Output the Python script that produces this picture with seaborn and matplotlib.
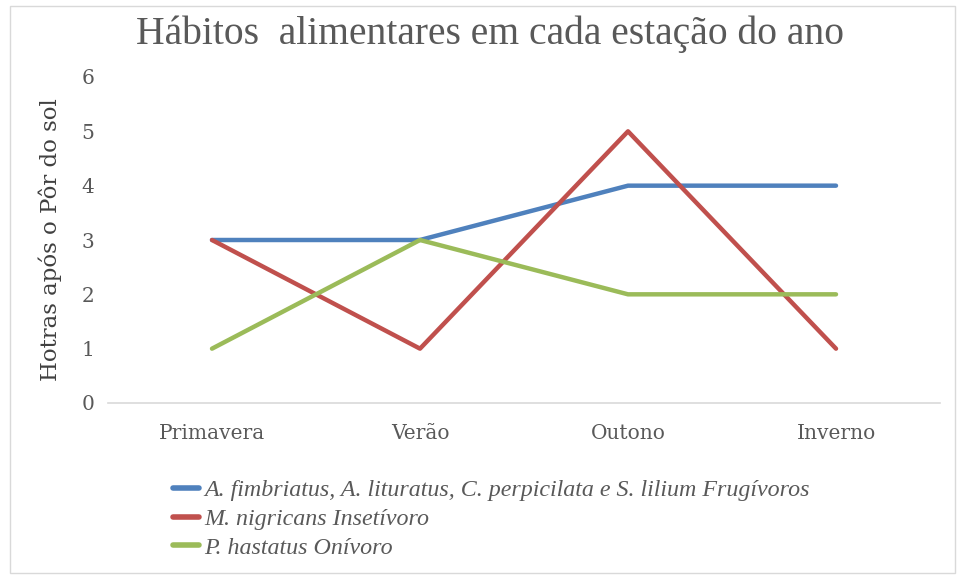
import matplotlib
matplotlib.use("Agg")
import matplotlib.pyplot as plt
import seaborn as sns
import pandas as pd
from matplotlib.lines import Line2D

categories = ["Primavera", "Verão", "Outono", "Inverno"]
series_names = [
    "A. fimbriatus, A. lituratus, C. perpicilata e S. lilium Frugívoros",
    "M. nigricans Insetívoro",
    "P. hastatus Onívoro",
]
frugivoros = [3, 3, 4, 4]
insetivoro = [3, 1, 5, 1]
onivoro = [1, 3, 2, 2]
colors = ["#4F81BD", "#C0504D", "#9BBB59"]

rows = []
for name, vals in zip(series_names, [frugivoros, insetivoro, onivoro]):
    for i, (c, v) in enumerate(zip(categories, vals)):
        rows.append({"Estação": c, "pos": i, "Horas": v, "Série": name})
df = pd.DataFrame(rows)

sns.set_theme(style="white")
plt.rcParams["font.family"] = ["DejaVu Serif", "Liberation Serif"]

fig = plt.figure(figsize=(9.59, 5.76), dpi=100)
ax = fig.add_axes([108/959, 1-403/576, 832/959, (403-77)/576])

sns.lineplot(data=df, x="pos", y="Horas", hue="Série", palette=colors,
             linewidth=3.2, ax=ax, legend=False, sort=False)

ax.set_xlim(-0.5, 3.5)
ax.set_ylim(0, 6)
ax.set_xticks(range(len(categories)))
ax.set_xticklabels(categories)
ax.set_yticks(range(0, 7))
ax.tick_params(axis="both", length=0, labelsize=14.5, labelcolor="#595959")
ax.tick_params(axis="x", pad=15)
ax.tick_params(axis="y", pad=10)
ax.set_xlabel("")
ax.set_ylabel("Hotras após o Pôr do sol", fontsize=16.5, color="#404040", labelpad=14)
for s in ["top", "right", "left"]:
    ax.spines[s].set_visible(False)
ax.spines["bottom"].set_color("#D9D9D9")
ax.spines["bottom"].set_linewidth(1.2)

fig.text(0.511, 0.94, "Hábitos  alimentares em cada estação do ano",
         ha="center", va="center", fontsize=28.5, color="#595959",
         family=["Liberation Serif", "DejaVu Serif"])

handles = [Line2D([0], [0], color=c, lw=4) for c in colors]
leg = fig.legend(handles, series_names, loc="upper left",
                 bbox_to_anchor=(163/959, 1-470/576), frameon=False,
                 prop={"style": "italic", "size": 17.3, "family": ["Liberation Serif"]},
                 handlelength=1.1, handletextpad=0.2, labelspacing=0.28,
                 borderaxespad=0)
for t in leg.get_texts():
    t.set_color("#595959")

fig.add_artist(plt.Rectangle((10/959, 0.005), 0.985, 0.985, transform=fig.transFigure,
                             fill=False, edgecolor="#D9D9D9", lw=1))

fig.savefig("out.png", dpi=100)
